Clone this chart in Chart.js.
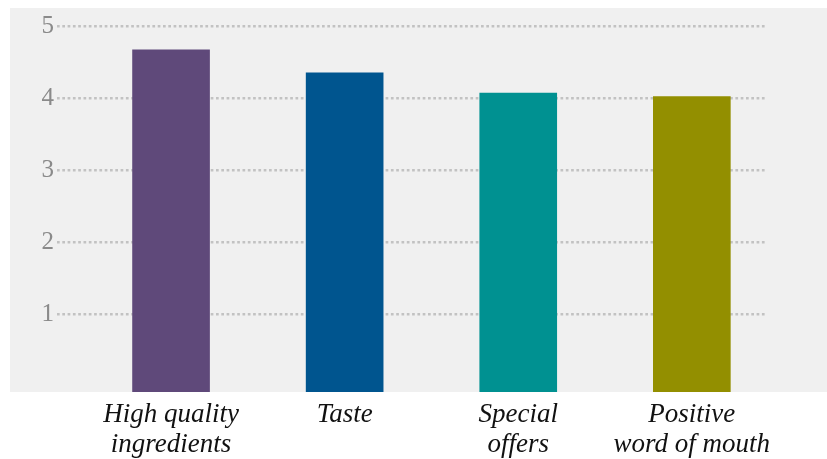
<!DOCTYPE html>
<html>
<head>
<meta charset="utf-8">
<script src="https://cdn.jsdelivr.net/npm/chart.js@4/dist/chart.umd.min.js"></script>
<style>
  html, body { margin: 0; padding: 0; background: #ffffff; }
  #wrap { position: relative; width: 827px; height: 459px; overflow: hidden; }
  #panel { position: absolute; left: 10px; top: 8px; width: 817px; height: 384px; background: #f0f0f0; }
  #c { position: absolute; left: 0; top: 0; }
</style>
</head>
<body>
<div id="wrap">
  <div id="panel"></div>
  <canvas id="c" width="827" height="459"></canvas>
</div>
<script>
// ---- data ----
const categories = [
  ["High quality", "ingredients"],
  ["Taste"],
  ["Special", "offers"],
  ["Positive", "word of mouth"]
];
const scores = [4.67, 4.35, 4.07, 4.02];
const barColors = ["#5f497a", "#00558f", "#009191", "#938f00"];
const yTickValues = [1, 2, 3, 4, 5];
const xTickValues = [1, 2, 3, 4];
const yMin = -0.08, yMax = 5;
const xMin = 0.343, xMax = 4.433;

const points = scores.map((v, i) => ({ x: xTickValues[i], y: v }));

new Chart(document.getElementById('c'), {
  type: 'bar',
  data: {
    datasets: [{
      data: points,
      backgroundColor: barColors,
      borderWidth: 0,
      barThickness: 77,
      base: yMin
    }]
  },
  options: {
    responsive: false,
    animation: false,
    layout: { padding: { left: 0, right: 60, top: 26, bottom: 0 } },
    plugins: { legend: { display: false }, tooltip: { enabled: false } },
    scales: {
      x: {
        type: 'linear',
        offset: false,
        min: xMin,
        max: xMax,
        grid: { display: false },
        border: { display: false },
        afterBuildTicks: (s) => { s.ticks = xTickValues.map(v => ({ value: v })); },
        afterFit: (s) => { s.height = 67; },
        ticks: {
          autoSkip: false,
          maxRotation: 0,
          padding: 0,
          color: '#111111',
          font: { family: '"Liberation Serif", "Times New Roman", serif', size: 27, style: 'italic', lineHeight: 1.1 },
          callback: (v) => categories[v - 1]
        }
      },
      y: {
        min: yMin,
        max: yMax,
        border: { display: false, dash: [2.7, 2.6] },
        afterBuildTicks: (s) => { s.ticks = yTickValues.map(v => ({ value: v })); },
        afterFit: (s) => { s.width = 57; },
        grid: {
          drawTicks: false,
          color: '#c2c2c2',
          lineWidth: 2.5
        },
        ticks: {
          padding: 3,
          color: '#8a8a8a',
          font: { family: '"Liberation Serif", "Times New Roman", serif', size: 25 }
        }
      }
    }
  }
});
</script>
</body>
</html>
